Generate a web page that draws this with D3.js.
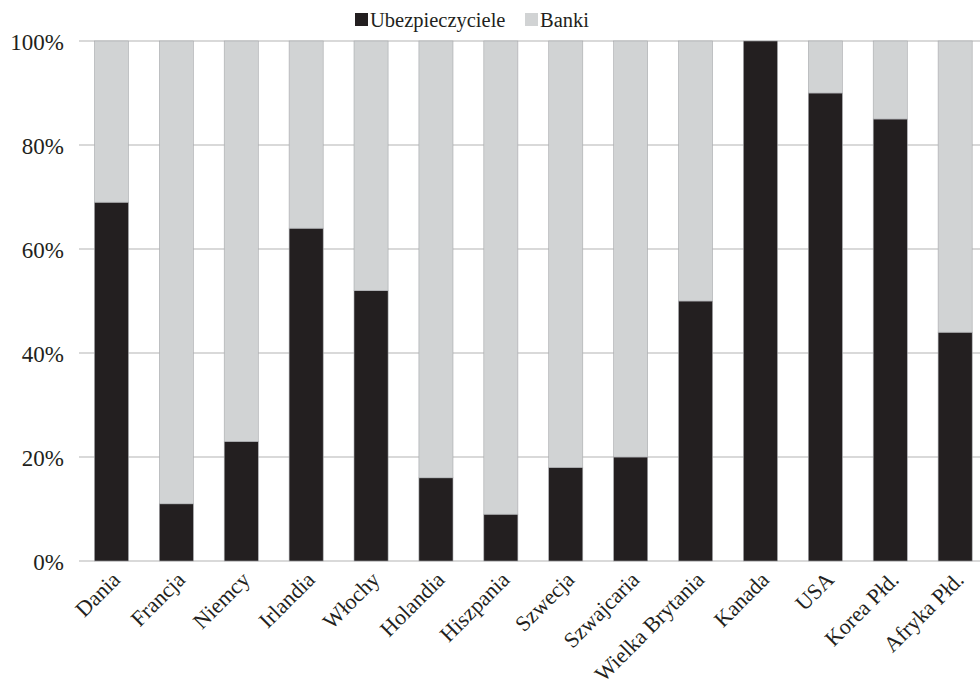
<!DOCTYPE html>
<html><head><meta charset="utf-8">
<script src="https://cdn.jsdelivr.net/npm/d3@7"></script>
<style>body{margin:0;background:#fff}svg{display:block}text{font-family:"Liberation Serif","Times New Roman",serif}</style>
</head><body><svg id="c" width="980" height="690"></svg>
<script>
const categories = ["Dania","Francja","Niemcy","Irlandia","Włochy","Holandia","Hiszpania","Szwecja","Szwajcaria","Wielka Brytania","Kanada","USA","Korea Płd.","Afryka Płd."];
const insurers = [69, 11, 23, 64, 52, 16, 9, 18, 20, 50, 100, 90, 85, 44];
const banks = [31, 89, 77, 36, 48, 84, 91, 82, 80, 50, 0, 10, 15, 56];
const seriesNames = ["Ubezpieczyciele", "Banki"];
const seriesColors = ["#231f20", "#d1d3d4"];
const yTicks = [0, 20, 40, 60, 80, 100];

(function () {
const svg = d3.select("#c");
const font = '"Liberation Serif","Times New Roman",serif';
const pLeft = 79, pRight = 79 + 14 * 64.9, pTop = 41, pBottom = 561;

const x = d3.scaleBand().domain(categories).range([pLeft, pRight]).paddingInner(0.475).paddingOuter(0.2375);
const y = d3.scaleLinear().domain([0, 100]).range([pBottom, pTop]);

// gridlines
svg.append("g").selectAll("line").data(yTicks).join("line")
  .attr("x1", pLeft).attr("x2", 980)
  .attr("y1", d => y(d)).attr("y2", d => y(d))
  .attr("stroke", "#d9d9d9").attr("stroke-width", 2);

// y axis labels
const yAxis = d3.axisLeft(y).tickValues(yTicks).tickFormat(d => d + "%").tickSize(0).tickPadding(14);
const ya = svg.append("g").attr("transform", `translate(${pLeft},0)`).call(yAxis);
ya.attr("font-family", null).attr("font-size", null);
ya.select(".domain").remove();
ya.selectAll("text").style("font-family", font).style("font-size", "23px").attr("fill", "#231f20").attr("dy", "0.38em").attr("x", -15);

// stacked bars
const rows = categories.map((c, i) => ({cat: c, ins: insurers[i], bank: banks[i]}));
const stack = d3.stack().keys(["ins", "bank"])(rows);
svg.append("g").selectAll("g").data(stack).join("g")
  .attr("fill", (d, i) => seriesColors[i])
  .selectAll("rect").data(d => d).join("rect")
  .attr("x", d => x(d.data.cat))
  .attr("width", x.bandwidth())
  .attr("y", d => y(d[1]))
  .attr("height", d => y(d[0]) - y(d[1]))
  .attr("stroke", "#a7a9ac").attr("stroke-width", 0.6);

// x labels
svg.append("g").selectAll("text").data(categories).join("text")
  .attr("transform", d => `translate(${x(d) + x.bandwidth() / 2 + 10},${pBottom + 20}) rotate(-45)`)
  .attr("text-anchor", "end")
  .style("font-family", font).style("font-size", "22px").attr("fill", "#231f20")
  .text(d => d);

// legend
const legend = [{name: seriesNames[0], color: seriesColors[0], x: 355}, {name: seriesNames[1], color: seriesColors[1], x: 525}];
const lg = svg.append("g").selectAll("g").data(legend).join("g").attr("transform", d => `translate(${d.x},0)`);
lg.append("rect").attr("x", 0).attr("y", 13).attr("width", 13).attr("height", 13).attr("fill", d => d.color);
lg.append("text").attr("x", 15).attr("y", 27)
  .style("font-family", font).style("font-size", "20.5px").attr("fill", "#231f20").text(d => d.name);
})();
</script></body></html>
